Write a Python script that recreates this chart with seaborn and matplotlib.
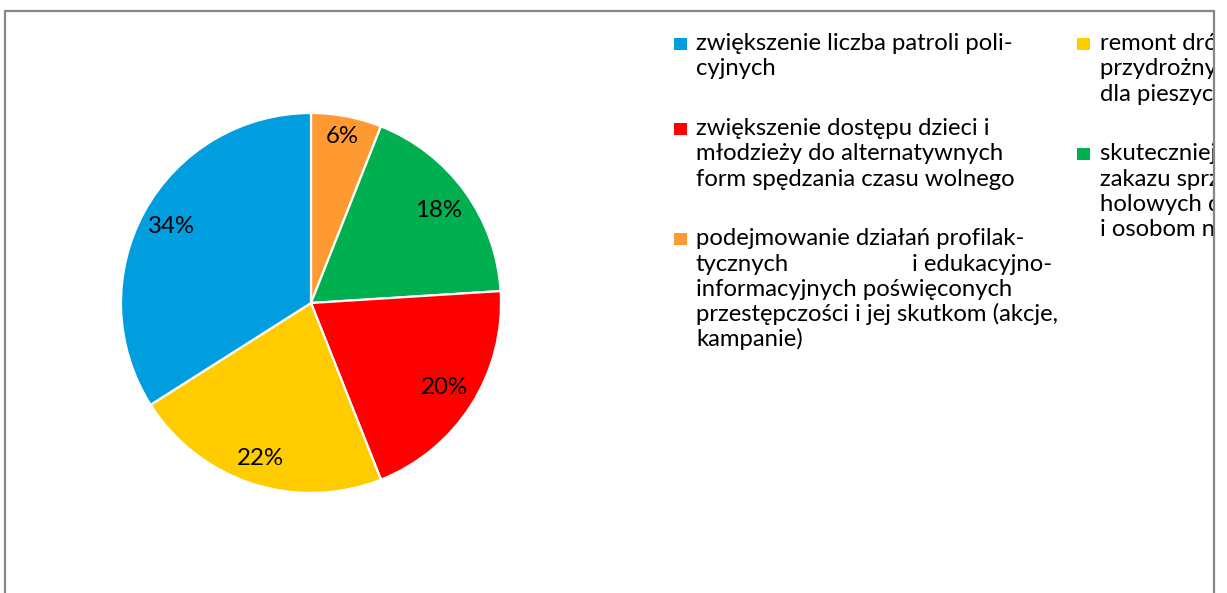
import matplotlib
matplotlib.use("Agg")
import matplotlib.pyplot as plt
from matplotlib.patches import Rectangle
import numpy as np
import seaborn as sns

# Survey answers, in the order the slices run clockwise from 12 o'clock
slice_names = [
    "podejmowanie działań profilaktycznych",
    "skuteczniejsze egzekwowanie zakazu",
    "zwiększenie dostępu dzieci i młodzieży",
    "remont dróg i chodników",
    "zwiększenie liczba patroli policyjnych",
]
slice_shares = [6, 18, 20, 22, 34]
slice_colors = ["#FF9A33", "#00B050", "#FF0000", "#FFCC00", "#019EDF"]
# radial position of each percentage label (fraction of radius)
label_radius = [0.89, 0.83, 0.83, 0.86, 0.84]

# Legend entries (wrapped lines), laid out in two columns
legend_col1 = [
    (4, ["zwiększenie liczba patroli poli-", "cyjnych"]),
    (2, ["zwiększenie dostępu dzieci i", "młodzieży do alternatywnych",
         "form spędzania czasu wolnego"]),
    (0, ["podejmowanie działań profilak-", "tycznych\ti edukacyjno-",
         "informacyjnych poświęconych",
         "przestępczości i jej skutkom (akcje,", "kampanie)"]),
]
legend_col2 = [
    (3, ["remont dróg, chodników", "przydrożnych i ścieżek", "dla pieszych"]),
    (1, ["skuteczniejsze egzekwowanie", "zakazu sprzedaży napojów alko-",
         "holowych dzieciom", "i osobom nietrzeźwym"]),
]

W, H = 1227, 593
sns.set_theme(style="white")
plt.rcParams["font.family"] = ["Lato", "DejaVu Sans"]

fig = plt.figure(figsize=(W / 100, H / 100), dpi=100)
fig.patch.set_facecolor("white")

# square axes centred on the pie, 190 px per unit radius
cx, cy, R, half = 311, 303, 190, 200
ax = fig.add_axes([(cx - half) / W, (H - cy - half) / H, 2 * half / W, 2 * half / H])
wedges, _, autotexts = ax.pie(
    slice_shares,
    colors=slice_colors,
    startangle=90,
    counterclock=False,
    radius=1,
    autopct=lambda p: f"{p:.0f}%",
    pctdistance=0.85,
    wedgeprops=dict(edgecolor="white", linewidth=1.6),
    textprops=dict(fontsize=17.3, color="black"),
)
for w, t, r in zip(wedges, autotexts, label_radius):
    ang = np.deg2rad((w.theta1 + w.theta2) / 2)
    t.set_position((r * np.cos(ang), r * np.sin(ang)))

lim = half / R
ax.set_xlim(-lim, lim)
ax.set_ylim(-lim, lim)
ax.set_aspect("equal")
ax.axis("off")


def fx(x):
    return x / W


def fy(y):
    return 1 - y / H


FS = 17.2
PITCH = 25.3
GAP = 34.4


def draw_column(entries, x_box, x_text, y0, justify_right):
    y = y0
    for idx, lines in entries:
        fig.patches.append(Rectangle((fx(x_box), fy(y)), 12.5 / W, 12.5 / H,
                                     transform=fig.transFigure,
                                     facecolor=slice_colors[idx], edgecolor="none",
                                     zorder=2))
        for k, line in enumerate(lines):
            yy = y + k * PITCH
            if "\t" in line:
                left, right = line.split("\t")
                fig.text(fx(x_text), fy(yy), left, fontsize=FS, va="baseline",
                         ha="left", color="black")
                fig.text(fx(justify_right), fy(yy), right, fontsize=FS,
                         va="baseline", ha="right", color="black")
            else:
                fig.text(fx(x_text), fy(yy), line, fontsize=FS, va="baseline",
                         ha="left", color="black")
        y += len(lines) * PITCH + GAP


draw_column(legend_col1, 674, 696, 50, 1052)
draw_column(legend_col2, 1077, 1100, 50, 1400)

# white strip beyond the right frame edge, then the chart frame itself
fig.patches.append(Rectangle((fx(1214), 0), (W - 1214) / W, 1,
                             transform=fig.transFigure, facecolor="white",
                             edgecolor="none", zorder=5))
frame_kw = dict(color="#878787", linewidth=1.6, transform=fig.transFigure, zorder=6)
fig.lines.append(plt.Line2D([fx(4.5), fx(4.5)], [fy(10.5), 0], **frame_kw))
fig.lines.append(plt.Line2D([fx(4.5), fx(1213.5)], [fy(10.5), fy(10.5)], **frame_kw))
fig.lines.append(plt.Line2D([fx(1213.5), fx(1213.5)], [fy(10.5), 0], **frame_kw))

fig.savefig("out.png", dpi=100, facecolor="white")
